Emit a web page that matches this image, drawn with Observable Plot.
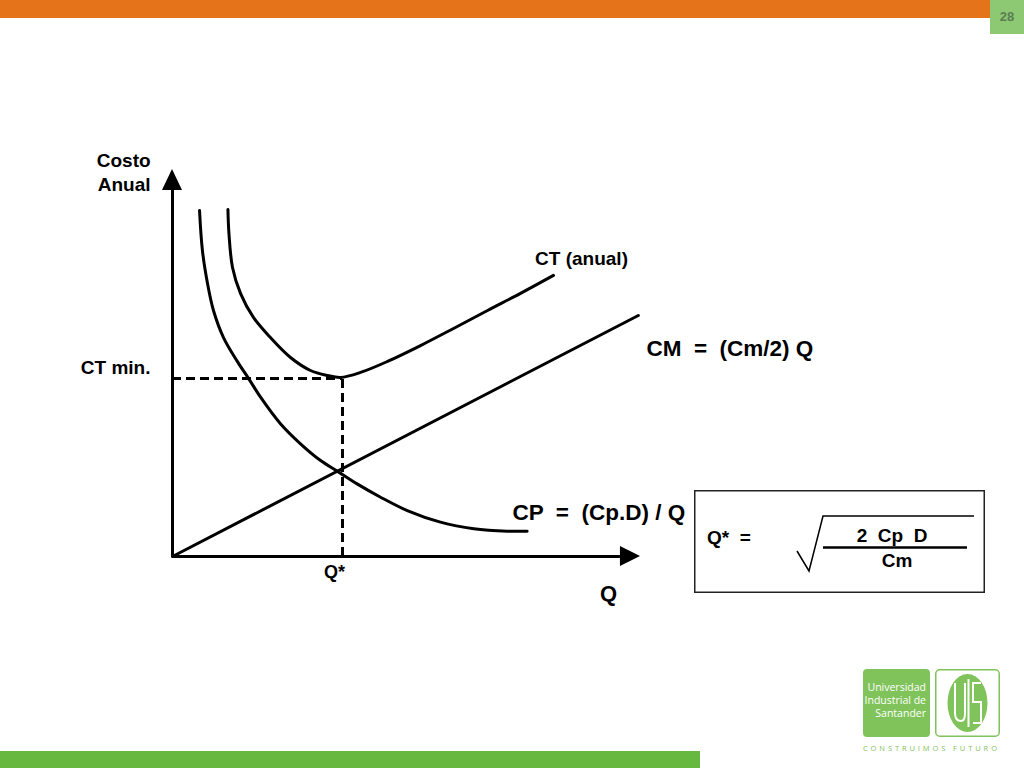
<!DOCTYPE html>
<html>
<head>
<meta charset="utf-8">
<script src="https://cdn.jsdelivr.net/npm/d3@7"></script>
<script src="https://cdn.jsdelivr.net/npm/@observablehq/plot@0.6"></script>
<style>
  html, body { margin: 0; padding: 0; background: #fff; }
  #page { position: relative; width: 1024px; height: 768px; overflow: hidden; background: #fff; font-family: "Liberation Sans", Arial, sans-serif; }
  #chart { position: absolute; left: 0; top: 0; }
  svg text { white-space: pre; }
  .abs { position: absolute; }
</style>
</head>
<body>
<div id="page">
  <div id="chart"></div>
  <div class="abs" style="left:0;top:0;width:990px;height:18px;background:#E5731A;"></div>
  <div class="abs" style="left:990px;top:0;width:34px;height:34px;background:#8DC873;color:#5B7D52;font:bold 13px 'Liberation Sans',Arial,sans-serif;text-align:center;line-height:34px;">28</div>
  <div class="abs" style="left:694px;top:490px;width:291px;height:103px;">
    <svg width="291" height="103" style="display:block">
      <rect x="0.75" y="0.75" width="289.5" height="101.5" fill="none" stroke="#222" stroke-width="1.5"/>
      <text x="13" y="49" dominant-baseline="middle" font-family="Liberation Sans, Arial, sans-serif" font-weight="bold" font-size="19">Q*  =</text>
      <polyline points="103,61 115,81 129,26 280,26" fill="none" stroke="#000" stroke-width="1.5"/>
      <line x1="129" y1="57.5" x2="273" y2="57.5" stroke="#000" stroke-width="2.5"/>
      <text x="198" y="47" text-anchor="middle" dominant-baseline="middle" font-family="Liberation Sans, Arial, sans-serif" font-weight="bold" font-size="19">2  Cp  D</text>
      <text x="203" y="72" text-anchor="middle" dominant-baseline="middle" font-family="Liberation Sans, Arial, sans-serif" font-weight="bold" font-size="19">Cm</text>
    </svg>
  </div>
  <div class="abs" style="left:863px;top:669px;width:67px;height:68px;background:#7FC35A;border-radius:4px;"></div>
  <div class="abs" style="left:863px;top:681px;width:63px;text-align:right;color:#fff;font:10.5px/13px 'Open Sans','Noto Sans',sans-serif;">Universidad<br>Industrial de<br>Santander</div>
  <div class="abs" style="left:935px;top:669px;width:65px;height:68px;">
    <svg width="65" height="68" style="display:block">
      <rect x="0.75" y="0.75" width="63.5" height="66.5" rx="4" fill="none" stroke="#7FC35A" stroke-width="1.5"/>
      <ellipse cx="32.5" cy="34" rx="20" ry="29" fill="#7FC35A"/>
      <path d="M20,14 V44 Q20,52 26,52 Q30,52 30,44 V14" fill="none" stroke="#fff" stroke-width="2"/>
      <line x1="33.5" y1="10" x2="33.5" y2="58" stroke="#fff" stroke-width="2"/>
      <path d="M46,14 H38 V33 H46 V54 H38" fill="none" stroke="#fff" stroke-width="2"/>
    </svg>
  </div>
  <div class="abs" style="left:863px;top:743px;width:140px;text-align:left;color:#7FC35A;font:7.5px 'Open Sans','Noto Sans',sans-serif;letter-spacing:2.9px;white-space:nowrap;">CONSTRUIMOS FUTURO</div>
  <div class="abs" style="left:0;top:751px;width:700px;height:17px;background:#66B83F;"></div>
</div>
<script>
// Economic order quantity chart (units: Q* = 100, CT min = 100)
const cpQ = [15.9, 17.6, 20.6, 24.1, 30.0, 38.2, 44.9, 51.8, 63.5, 75.3, 87.1, 97.8, 108.6, 122.4, 138.1, 157.6, 177.2, 196.9, 208.6];
const cpC = [194.4, 171.9, 153.4, 138.2, 123.0, 109.5, 99.8, 89.5, 74.6, 63.3, 53.9, 47.4, 40.8, 33.3, 25.8, 19.3, 15.6, 14.2, 14.2];
const ctQ = [32.6, 33.2, 35.3, 40.0, 47.6, 57.6, 69.4, 81.2, 91.2, 98.8, 110.6, 126.5, 145.9, 165.3, 185.3, 204.7, 224.1];
const ctC = [194.9, 181.5, 162.4, 147.8, 134.3, 123.0, 111.8, 104.5, 101.7, 100.6, 103.4, 109.6, 118.5, 128.1, 138.2, 147.8, 157.9];
const cmQ = [0, 274];
const cmC = [0, 135.4];
const qStar = 100;
const ctMin = 100;
const xTickLabels = ["Q*"];
const yTickLabels = ["CT min."];
const yAxisTitle = "Costo\nAnual";
const xAxisTitle = "Q";
const seriesLabels = ["CT (anual)", "CM  =  (Cm/2) Q", "CP  =  (Cp.D) / Q"];

const cp = cpQ.map((q, i) => ({q, c: cpC[i]}));
const ct = ctQ.map((q, i) => ({q, c: ctC[i]}));
const cm = cmQ.map((q, i) => ({q, c: cmC[i]}));

// axis extents (data units)
const xAxisEnd = 263.5, xArrowTip = 275.3, xArrowHalf = 5.6;
const yAxisEnd = 205.6, yArrowTip = 217.4, yArrowHalf = 5.9;

const txt = {fontWeight: "bold", fill: "black"};

const chart = Plot.plot({
  width: 1024,
  height: 768,
  margin: 0,
  x: {domain: [0, 100], range: [172, 342], axis: null},
  y: {domain: [0, 100], range: [556, 378], axis: null},
  style: {fontFamily: "Liberation Sans, Arial, sans-serif", background: "transparent", color: "black"},
  marks: [
    // dashed guides
    Plot.ruleY([ctMin], {x1: 0, x2: qStar, stroke: "black", strokeWidth: 3, strokeDasharray: "9,5"}),
    Plot.ruleX([qStar], {y1: 0, y2: ctMin, stroke: "black", strokeWidth: 3, strokeDasharray: "9,5"}),
    // axes
    Plot.ruleY([0], {x1: 0, x2: xAxisEnd, stroke: "black", strokeWidth: 3}),
    Plot.ruleX([0], {y1: 0, y2: yAxisEnd, stroke: "black", strokeWidth: 3}),
    Plot.areaY([{q: xAxisEnd, lo: -xArrowHalf, hi: xArrowHalf}, {q: xArrowTip, lo: 0, hi: 0}], {x: "q", y1: "lo", y2: "hi", fill: "black"}),
    Plot.areaX([{c: yAxisEnd, lo: -yArrowHalf, hi: yArrowHalf}, {c: yArrowTip, lo: 0, hi: 0}], {y: "c", x1: "lo", x2: "hi", fill: "black"}),
    // curves
    Plot.line(cm, {x: "q", y: "c", stroke: "black", strokeWidth: 3}),
    Plot.line(cp, {x: "q", y: "c", stroke: "black", strokeWidth: 3, curve: "catmull-rom"}),
    Plot.line(ct, {x: "q", y: "c", stroke: "black", strokeWidth: 3, curve: "catmull-rom"}),
    // tick labels
    Plot.text(xTickLabels, {x: [qStar], y: [0], text: d => d, dx: -8, dy: 16, fontSize: 18, textAnchor: "middle", lineAnchor: "middle", ...txt}),
    Plot.text(yTickLabels, {x: [0], y: [ctMin], text: d => d, dx: -22, dy: -11, fontSize: 19, textAnchor: "end", lineAnchor: "middle", ...txt}),
    // axis titles
    Plot.text([yAxisTitle], {x: [-12.9], y: [216.5], text: d => d, fontSize: 19, lineHeight: 1.27, textAnchor: "end", lineAnchor: "middle", ...txt}),
    Plot.text([xAxisTitle], {x: [256.5], y: [-20.8], text: d => d, fontSize: 22, textAnchor: "middle", lineAnchor: "middle", ...txt}),
    // series labels
    Plot.text([seriesLabels[0]], {x: [240.6], y: [167.4], text: d => d, fontSize: 19, textAnchor: "middle", lineAnchor: "middle", ...txt}),
    Plot.text([seriesLabels[1]], {x: [278.8], y: [116.9], text: d => d, fontSize: 22.5, textAnchor: "start", lineAnchor: "middle", ...txt}),
    Plot.text([seriesLabels[2]], {x: [200], y: [24.7], text: d => d, fontSize: 22.5, textAnchor: "start", lineAnchor: "middle", ...txt})
  ]
});
document.getElementById("chart").appendChild(chart);
</script>
</body>
</html>
